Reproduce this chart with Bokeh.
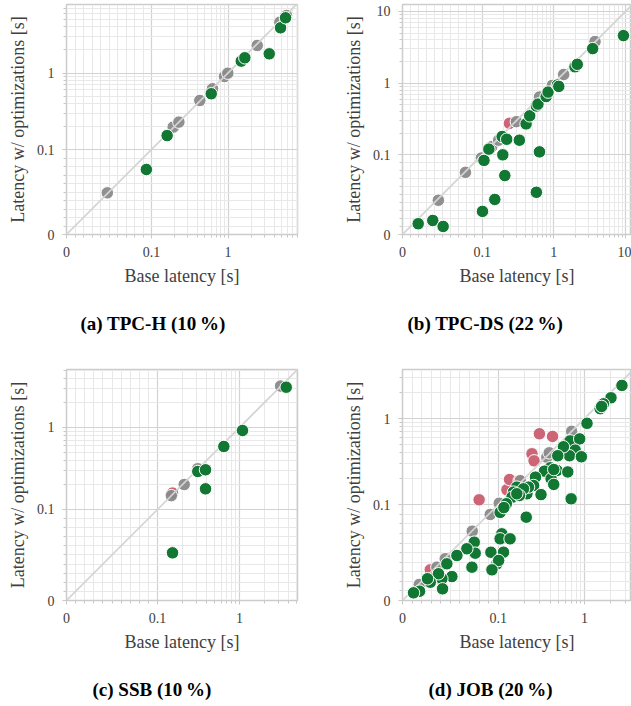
import math
from bokeh.plotting import figure
from bokeh.layouts import row, column
from bokeh.models import FixedTicker, CustomJSTickFormatter, Title, LinearAxis
from bokeh.embed import file_html
from bokeh.resources import INLINE

# ---------------- data (seconds) ----------------
# (a) TPC-H
a_same_base = [0.048, 0.192, 0.228, 0.428, 0.627, 0.90, 0.995, 2.41, 4.76, 5.82]
a_same_opt = [0.049, 0.196, 0.228, 0.437, 0.622, 0.90, 0.995, 2.29, 4.61, 5.65]
a_fast_base = [0.094, 0.160, 0.604, 1.49, 1.66, 3.46, 4.86, 5.65]
a_fast_opt = [0.0765, 0.152, 0.535, 1.43, 1.58, 1.78, 3.90, 5.27]
a_slow_base = []
a_slow_opt = []

# (b) TPC-DS
b_same_base = [0.045, 0.079, 0.099, 0.136, 0.17, 0.30, 0.63, 0.95, 1.37, 3.75]
b_same_opt = [0.043, 0.078, 0.096, 0.13, 0.16, 0.29, 0.64, 0.93, 1.32, 3.80]
b_fast_base = [0.0197, 0.038, 0.051, 0.101, 0.15, 0.207, 0.194, 0.106, 0.124, 0.19,
               0.22, 0.33, 0.57, 0.63, 0.41, 0.46, 0.57, 0.60, 0.78, 0.83,
               1.12, 1.17, 1.97, 2.12, 3.48, 9.34]
b_fast_opt = [0.0135, 0.0176, 0.0101, 0.029, 0.044, 0.074, 0.10, 0.093, 0.12, 0.18,
              0.165, 0.16, 0.053, 0.11, 0.27, 0.35, 0.48, 0.51, 0.65, 0.75,
              0.94, 0.90, 1.69, 1.83, 3.03, 4.6]
b_slow_base = [0.24]
b_slow_opt = [0.275]

# (c) SSB
c_same_base = [0.147, 0.211, 0.309, 3.16]
c_same_opt = [0.147, 0.201, 0.313, 3.19]
c_fast_base = [0.152, 0.309, 0.384, 0.384, 0.642, 1.085, 3.70]
c_fast_opt = [0.0523, 0.29, 0.304, 0.178, 0.585, 0.917, 3.09]
c_slow_base = [0.152]
c_slow_opt = [0.158]

# (d) JOB
d_same_base = [0.0175, 0.0359, 0.0446, 0.0728, 0.0916, 0.1026, 0.18, 0.366, 0.39, 0.71]
d_same_opt = [0.0167, 0.0348, 0.0436, 0.0724, 0.0898, 0.104, 0.19, 0.356, 0.40, 0.71]
d_slow_base = [0.029, 0.080, 0.126, 0.135, 0.175, 0.246, 0.26, 0.30, 0.426]
d_slow_opt = [0.032, 0.114, 0.149, 0.196, 0.19, 0.39, 0.323, 0.665, 0.62]
d_fast_base = [2.72, 2.03, 1.66, 1.52, 1.58, 1.07, 0.68, 0.88, 0.78, 0.67,
               0.92, 0.57, 0.49, 0.48, 0.64, 0.70, 0.40, 0.343, 0.41, 0.44,
               0.44, 0.27, 0.257, 0.313, 0.211, 0.164, 0.150, 0.144, 0.124, 0.105,
               0.116, 0.215, 0.224, 0.196, 0.176, 0.164, 0.110, 0.105, 0.137, 0.115,
               0.0923, 0.0986, 0.101, 0.0934, 0.0749, 0.0759, 0.0725, 0.0672, 0.0568, 0.0516,
               0.0463, 0.0411, 0.0418, 0.0376, 0.029, 0.0261, 0.0178, 0.0115]
d_fast_opt = [2.42, 1.74, 1.48, 1.30, 1.38, 0.88, 0.55, 0.58, 0.43, 0.37,
              0.36, 0.47, 0.37, 0.25, 0.24, 0.117, 0.268, 0.245, 0.20, 0.172,
              0.256, 0.209, 0.167, 0.131, 0.087, 0.160, 0.140, 0.122, 0.1026, 0.092,
              0.097, 0.134, 0.160, 0.153, 0.128, 0.134, 0.0696, 0.0644, 0.0644, 0.0504,
              0.0504, 0.0383, 0.0418, 0.032, 0.0609, 0.0494, 0.0348, 0.054, 0.047, 0.025,
              0.0383, 0.0227, 0.0122, 0.0279, 0.0191, 0.0227, 0.0097, 0.008]

captions = ["(a) TPC-H (10\u2009%)", "(b) TPC-DS (22\u2009%)",
            "(c) SSB (10\u2009%)", "(d) JOB (20\u2009%)"]

tick_values = [0.0, 0.1, 1.0, 10.0]
tick_labels = ["0", "0.1", "1", "10"]
minor_values = ([k * 0.01 for k in range(1, 10)] + [k * 0.1 for k in range(2, 10)]
                + [float(k) for k in range(2, 10)] + [k * 10.0 for k in range(2, 10)])
diag_values = [0.0, 100.0]

# ---------------- symlog transform (linthresh 0.1, linscale 1) ----------------
LINTHRESH = 0.1
LINSCALE = 1.0 / (1.0 - 0.1)


def F(v):
    if v <= LINTHRESH:
        return v / LINTHRESH * LINSCALE
    return LINSCALE + math.log10(v / LINTHRESH)


def FL(vs):
    return [F(v) for v in vs]


GREEN = "#117733"
GRAY = "#8a8a8a"
RED = "#cc6677"
SERIF = "Liberation Serif"
TXT = "#404040"


def make_panel(same, fast, slow, caption, frame_w, frame_h, xr, yr,
               mb_right, mb_top, mb_bottom, cap_offset, gap_font):
    p = figure(frame_width=frame_w, frame_height=frame_h,
               min_border_left=66, min_border_right=mb_right,
               min_border_top=mb_top, min_border_bottom=mb_bottom,
               x_range=xr, y_range=yr, output_backend="svg",
               toolbar_location=None, background_fill_color="white",
               border_fill_color="white")
    p.outline_line_color = "#cccccc"
    p.outline_line_width = 1.5

    tv = FL(tick_values)
    formatter = CustomJSTickFormatter(args=dict(vals=tv, labs=tick_labels), code="""
        for (let i = 0; i < vals.length; i++) {
            if (Math.abs(tick - vals[i]) < 1e-6) { return labs[i]; }
        }
        return '';
    """)
    for ax in (p.xaxis[0], p.yaxis[0]):
        ax.ticker = FixedTicker(ticks=tv, minor_ticks=FL(minor_values))
        ax.formatter = formatter
        ax.axis_line_color = None
        ax.major_tick_line_color = "#c8c8c8"
        ax.minor_tick_line_color = "#c8c8c8"
        ax.major_tick_in = 0
        ax.major_tick_out = 4
        ax.minor_tick_in = 0
        ax.minor_tick_out = 3
        ax.major_label_text_font = SERIF
        ax.major_label_text_font_size = "14px"
        ax.major_label_text_color = TXT
        ax.major_label_standoff = 8
        ax.axis_label_text_font = SERIF
        ax.axis_label_text_font_size = "18px"
        ax.axis_label_text_font_style = "normal"
        ax.axis_label_text_color = TXT
        ax.axis_label_standoff = 6
    p.xaxis.axis_label = "Base latency [s]"
    p.yaxis.axis_label = "Latency w/ optimizations [s]"

    for g in (p.xgrid[0], p.ygrid[0]):
        g.grid_line_color = "#d2d2d2"
        g.grid_line_width = 1.2
        g.minor_grid_line_color = "#e8e8e8"
        g.minor_grid_line_width = 1

    if slow[0]:
        p.scatter(FL(slow[0]), FL(slow[1]), size=12.5, fill_color=RED,
                  line_color="white", line_width=1)
    p.scatter(FL(same[0]), FL(same[1]), size=12.5, fill_color=GRAY,
              line_color="white", line_width=1, fill_alpha=0.95)
    p.line(FL(diag_values), FL(diag_values), line_color="#d4d4d4", line_width=1.6)
    p.scatter(FL(fast[0]), FL(fast[1]), size=12.5, fill_color=GREEN,
              line_color="white", line_width=1)

    # blank spacer axis (its label is a no-break space), then the bold sub-caption
    spacer = LinearAxis(ticker=FixedTicker(ticks=[]), axis_line_color=None,
                        major_tick_line_color=None, minor_tick_line_color=None,
                        major_tick_in=0, major_tick_out=0, minor_tick_in=0,
                        minor_tick_out=0, major_label_text_font_size="0px",
                        axis_label="\u00a0", axis_label_standoff=0,
                        axis_label_text_font=SERIF,
                        axis_label_text_font_size=f"{gap_font}px")
    p.add_layout(spacer, "below")
    p.add_layout(Title(text=caption, align="left", offset=cap_offset, standoff=0,
                       text_font=SERIF, text_font_style="bold",
                       text_font_size="19px", text_color="black"), "below")
    return p


pa = make_panel((a_same_base, a_same_opt), (a_fast_base, a_fast_opt),
                (a_slow_base, a_slow_opt), captions[0],
                231, 230, (0, 231 / 76.5), (0, 230 / 76.5), 39, 4, 125, 14, 16.5)
pb = make_panel((b_same_base, b_same_opt), (b_fast_base, b_fast_opt),
                (b_slow_base, b_slow_opt), captions[1],
                229, 230, (0, 229 / 71.7), (0, 230 / 71.7), 0, 4, 125, 5, 16.5)
pc = make_panel((c_same_base, c_same_opt), (c_fast_base, c_fast_opt),
                (c_slow_base, c_slow_opt), captions[2],
                231, 231, (0, 231 / 82.0), (0, 231 / 82.0), 39, 10, 100, 26, 16.5)
pd = make_panel((d_same_base, d_same_opt), (d_fast_base, d_fast_opt),
                (d_slow_base, d_slow_opt), captions[3],
                229, 231, (0, 229 / 86.2), (0, 231 / 86.2), 0, 10, 100, 26, 16.5)

layout = column(row(pa, pb), row(pc, pd))
open("out.html", "w").write(file_html(layout, INLINE))
